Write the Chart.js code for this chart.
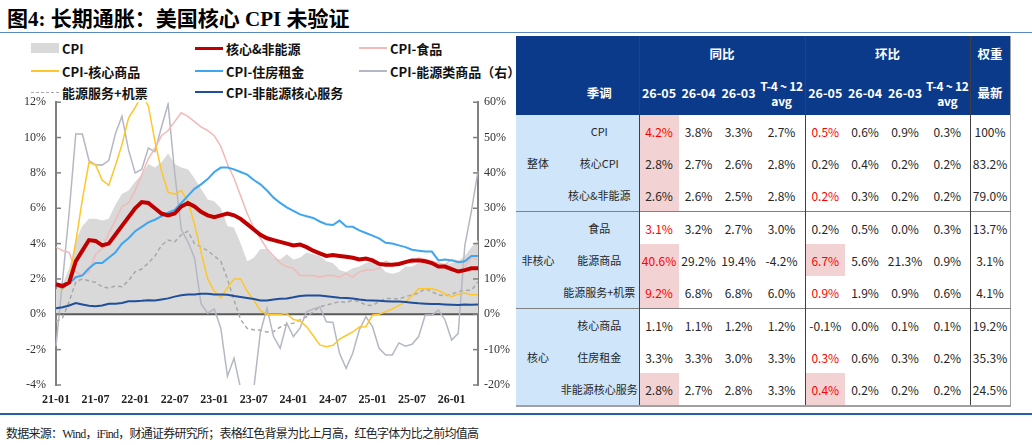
<!DOCTYPE html>
<html>
<head>
<meta charset="utf-8">
<script src="https://cdn.jsdelivr.net/npm/chart.js@4.4.1/dist/chart.umd.min.js"></script>
<style>
body { margin:0; width:1032px; height:445px; background:#fff; position:relative; overflow:hidden; font-family:"Noto Sans CJK SC", sans-serif; }
#title { position:absolute; left:7px; top:2px; font:bold 21px "Liberation Serif","Noto Sans CJK SC"; color:#000; white-space:nowrap; }
#rule1 { position:absolute; left:0; top:32px; width:1032px; border-top:1.5px solid #5b87c5; }
#rule2 { position:absolute; left:0; top:413px; width:1032px; border-top:2px solid #2462a8; }
#source { position:absolute; left:6px; top:424px; font:12px "Liberation Serif","Noto Sans CJK SC"; letter-spacing:-0.75px; color:#222; white-space:nowrap; }
#chartBox { position:absolute; left:0; top:85px; width:516px; height:327px; }
#legend .item { position:absolute; display:flex; align-items:center; height:18px; font:bold 13px "Noto Sans CJK SC"; color:#111; white-space:nowrap; }
#legend .sw { width:28px; margin-right:3px; }
#tbl { position:absolute; left:516px; top:36px; width:494px; border-collapse:collapse; table-layout:fixed;
       font:12px "Noto Sans CJK SC"; color:#262626; border-right:1.5px solid #a0a0a0; border-bottom:2px solid #a0a0a0; }
#tbl th { background:#0b3a8a; color:#fff; font-weight:bold; font-size:12.5px; padding:0; text-align:center; white-space:nowrap; overflow:visible; }
#tbl th.tavg { font-size:12px; letter-spacing:-0.3px; }
#tbl tr.h1 th { height:34px; }
#tbl tr.h2 th { height:45px; line-height:15px; }
#tbl td { height:32px; padding:0; text-align:center; white-space:nowrap; }
#tbl td.lab { background:#cfe5fa; font-size:11px; }
#tbl .sep { border-left:1.5px solid #404040; }
#tbl tr.gtop td { border-top:1.5px solid #808080; }
#tbl td.hi { background:#f2d2d2; }
#tbl td.red { color:#ff0000; }
</style>
</head>
<body>
<div id="title">图4: 长期通胀：美国核心 CPI 未验证</div>
<div id="rule1"></div>
<div id="legend"></div>
<div id="chartBox"><canvas id="myChart"></canvas></div>
<table id="tbl"></table>
<div id="rule2"></div>
<div id="source">数据来源：Wind，iFind，财通证券研究所；表格红色背景为比上月高，红色字体为比之前均值高</div>

<script>
// months 21-01 .. 26-05
var months = [];
for (var yy = 21; yy <= 26; yy++) {
  for (var mm = 1; mm <= 12; mm++) {
    if (yy == 26 && mm > 5) break;
    months.push(yy + "-" + (mm < 10 ? "0" + mm : mm));
  }
}

// left axis (%)
var cpi = [1.4,1.7,2.6,4.2,5.0,5.4,5.4,5.3,5.4,6.2,6.8,7.0,
  7.5,7.9,8.5,8.3,8.6,9.1,8.5,8.3,8.2,7.7,7.1,6.5,
  6.4,6.0,5.0,4.9,4.0,3.0,3.2,3.7,3.7,3.2,3.1,3.4,
  3.1,3.2,3.5,3.4,3.3,3.0,2.9,2.5,2.4,2.6,2.7,2.9,
  3.0,2.8,2.4,2.3,2.4,2.7,2.7,2.9,3.0,3.0,2.8,2.8,
  2.9,3.0,3.3,3.8,4.2];
var coreNonEnergy = [1.7,1.6,1.8,3.0,3.6,4.2,4.15,3.9,4.0,4.5,5.0,5.5,
  6.0,6.35,6.3,6.0,5.7,5.6,5.7,6.1,6.3,6.1,5.8,5.6,
  5.5,5.6,5.7,5.6,5.4,5.1,4.8,4.5,4.3,4.2,4.1,4.0,
  3.9,3.95,3.8,3.6,3.45,3.3,3.35,3.3,3.25,3.2,3.1,3.15,
  3.05,2.85,2.8,2.8,2.85,2.95,3.05,3.05,3.0,2.9,2.7,2.7,
  2.55,2.42,2.5,2.6,2.6];
var food = [3.8,3.6,3.5,2.4,2.2,2.4,3.4,3.7,4.6,5.3,6.1,6.3,
  7.0,7.9,8.8,9.4,10.1,10.4,10.9,11.4,11.2,10.9,10.6,10.4,
  10.1,9.5,8.5,7.7,6.7,5.7,4.9,4.3,3.7,3.3,2.9,2.7,
  2.6,2.2,2.2,2.2,2.1,2.2,2.2,2.1,2.3,2.1,2.4,2.5,
  2.5,2.6,3.0,2.8,2.9,3.0,2.9,3.2,3.1,3.0,2.9,2.8,
  3.1,3.0,2.7,3.2,3.1];
var coreGoods = [1.7,1.4,1.85,4.1,6.5,8.6,8.45,7.6,7.3,8.4,9.6,11.1,
  11.7,12.4,11.8,9.8,8.1,6.9,6.8,7.0,6.4,5.1,3.5,2.0,
  1.3,0.95,1.5,2.0,2.0,1.3,0.8,0.2,0.0,0.0,0.0,0.05,
  -0.3,-0.37,-0.7,-1.2,-1.73,-1.83,-1.75,-1.4,-1.2,-1.0,-0.72,-0.7,
  -0.04,0.0,0.15,0.3,0.5,0.7,1.05,1.45,1.45,1.45,1.35,1.15,
  1.0,1.15,1.2,1.1,1.1];
var shelter = [1.6,1.5,1.75,2.1,2.2,2.6,2.9,2.9,3.2,3.5,4.0,4.3,
  4.7,4.95,5.2,5.35,5.55,5.75,5.9,6.3,6.7,7.1,7.35,7.65,
  8.05,8.3,8.3,8.2,8.05,7.9,7.6,7.35,7.0,6.6,6.3,6.05,
  5.85,5.65,5.55,5.45,5.25,5.1,5.05,5.3,4.97,4.95,4.75,4.6,
  4.45,4.3,4.05,4.0,3.9,3.8,3.65,3.6,3.55,3.55,3.05,3.1,
  3.05,2.95,3.0,3.3,3.3];

// right axis (%)
var energyGoods = [-9,9.7,29,51,51,43.5,42.3,42.2,43.5,51,56,46.5,
  40,41,47,46,53,59.5,40,24,20.5,16,3,0.3,
  1.5,-4,-17.5,-12.4,-21,-27,-21,-5,1.7,-6.3,-9.6,-2.5,
  -6.3,-3.9,0.7,1.5,2.1,-2.1,-2.3,-11,-15.3,-11,-4.4,-0.7,
  -3.5,-9.6,-11.5,-11.5,-8.1,-9,-8.5,-6.3,-0.2,-0.2,1.2,-1.6,
  -7.3,-5.4,19.4,29.2,40.6];
var energyServAir = [-2,-1,3.6,9.2,10,9.5,9,7.8,7.4,8,7.8,9.5,
  12,12.8,14.5,16.5,19.5,21,20.5,22.5,23.5,20,19,18,
  16.5,15,10,4,-1.5,-4,-4.4,-4.5,-5,-4.9,-3.6,-2.8,
  -2.5,-1.6,-0.7,0.7,2.1,2.6,3.1,3.6,3.3,4,3.6,2.6,
  2.5,3.6,4.5,4.5,4.3,5,5.5,6,7.3,6.4,5.5,5.2,
  5.7,6.4,6.8,6.8,9.2];
var coreServices = [1.7,2.0,2.5,3.2,2.8,2.4,2.3,2.5,3.0,3.0,3.2,3.7,
  3.7,3.8,4.0,3.9,4.2,4.5,5.0,5.4,5.6,5.6,5.8,5.8,
  5.6,5.6,5.5,5.2,4.9,4.6,4.3,3.9,3.9,4.2,4.4,4.5,
  4.8,5.2,5.3,5.3,5.3,5.1,4.9,4.7,4.6,4.5,4.2,4.0,
  3.9,3.8,3.7,3.6,3.6,3.5,3.3,3.1,3.0,2.9,2.9,2.8,
  2.7,2.6,2.8,2.7,2.8];

var leftTicks = [-4, 12, 2];
var rightTicks = [-20, 60, 10];

// table data
var rowNames = ["CPI","核心CPI","核心&非能源","食品","能源商品","能源服务+机票","核心商品","住房租金","非能源核心服务"];
var groupNames = ["整体","非核心","核心"];
var periodHead = ["26-05","26-04","26-03","T-4 ~ 12<br>avg"];
var yoy = [[4.2,3.8,3.3,2.7],[2.8,2.7,2.6,2.8],[2.6,2.6,2.5,2.8],
  [3.1,3.2,2.7,3.0],[40.6,29.2,19.4,-4.2],[9.2,6.8,6.8,6.0],
  [1.1,1.1,1.2,1.2],[3.3,3.3,3.0,3.3],[2.8,2.7,2.8,3.3]];
var mom = [[0.5,0.6,0.9,0.3],[0.2,0.4,0.2,0.2],[0.2,0.3,0.2,0.2],
  [0.2,0.5,0.0,0.3],[6.7,5.6,21.3,0.9],[0.9,1.9,0.9,0.6],
  [-0.1,0.0,0.1,0.1],[0.3,0.6,0.3,0.2],[0.4,0.2,0.2,0.2]];
var weights = ["100%","83.2%","79.0%","13.7%","3.1%","4.1%","19.2%","35.3%","24.5%"];
// [yoy, mom] flags for the latest month
var higherThanLast = [[1,0],[1,0],[1,0],[0,0],[1,1],[1,0],[0,0],[0,0],[1,1]];
var higherThanAvg = [[1,1],[0,0],[0,1],[1,0],[1,1],[1,1],[0,0],[0,1],[0,1]];


var datasets = [
  { label: "CPI", data: cpi, yAxisID: "y", borderWidth: 0, borderColor: "rgba(0,0,0,0)",
    backgroundColor: "#d9d9d9", fill: "origin", order: 10 },
  { label: "核心&非能源", data: coreNonEnergy, yAxisID: "y", borderColor: "#c00000", borderWidth: 4, fill: false, order: 0 },
  { label: "CPI-食品", data: food, yAxisID: "y", borderColor: "#f2b9b9", borderWidth: 1.5, fill: false, order: 5 },
  { label: "CPI-核心商品", data: coreGoods, yAxisID: "y", borderColor: "#ffc629", borderWidth: 1.5, fill: false, order: 4 },
  { label: "CPI-住房租金", data: shelter, yAxisID: "y", borderColor: "#3ea6f0", borderWidth: 2, fill: false, order: 2 },
  { label: "CPI-能源类商品（右）", data: energyGoods, yAxisID: "y1", borderColor: "#b4b8c2", borderWidth: 1.5, fill: false, order: 6 },
  { label: "能源服务+机票", data: energyServAir, yAxisID: "y1", borderColor: "#a8a8a8", borderDash: [4, 3], borderWidth: 1.5, fill: false, order: 7 },
  { label: "CPI-非能源核心服务", data: coreServices, yAxisID: "y1", borderColor: "#1f4e9a", borderWidth: 2, fill: false, order: 3 }
];

// zero line + inward tick marks
var axisDeco = {
  id: "axisDeco",
  beforeDatasetsDraw: function (chart) {
    var ctx = chart.ctx, a = chart.chartArea;
    var y0 = chart.scales.y.getPixelForValue(0);
    ctx.save();
    ctx.strokeStyle = "#595959";
    ctx.lineWidth = 2;
    ctx.beginPath(); ctx.moveTo(a.left, y0); ctx.lineTo(a.right, y0); ctx.stroke();
    ctx.restore();
  },
  afterDraw: function (chart) {
    var ctx = chart.ctx;
    ctx.save();
    ctx.strokeStyle = "#7f7f7f";
    ctx.lineWidth = 1.5;
    ["y", "y1"].forEach(function (id) {
      var s = chart.scales[id];
      var x = id == "y" ? s.right : s.left;
      var d = id == "y" ? 5 : -5;
      s.ticks.forEach(function (t) {
        var py = s.getPixelForValue(t.value);
        ctx.beginPath(); ctx.moveTo(x, py); ctx.lineTo(x + d, py); ctx.stroke();
      });
    });
    ctx.restore();
  }
};

var myChart = new Chart(document.getElementById("myChart").getContext("2d"), {
  type: "line",
  data: { labels: months, datasets: datasets },
  options: {
    responsive: true,
    maintainAspectRatio: false,
    animation: false,
    layout: { padding: { top: 7, left: 0, right: 0, bottom: 0 } },
    elements: { point: { radius: 0 }, line: { tension: 0 } },
    plugins: { legend: { display: false }, tooltip: { enabled: false }, filler: { drawTime: "beforeDatasetsDraw" } },
    scales: {
      x: {
        grid: { display: false, tickLength: 0 },
        border: { display: false },
        afterFit: function (s) { s.height = 27; },
        ticks: {
          autoSkip: false, maxRotation: 0, padding: 8, color: "#222",
          font: { family: "Liberation Serif", size: 12, weight: "bold" },
          callback: function (v, i) { return i % 6 == 0 ? months[i] : ""; }
        }
      },
      y: {
        position: "left", min: leftTicks[0], max: leftTicks[1],
        grid: { display: true, drawOnChartArea: false, drawTicks: false },
        border: { display: true, color: "#808080", width: 2 },
        afterFit: function (s) { s.width = 56; },
        ticks: { stepSize: leftTicks[2], padding: 10, color: "#333",
          font: { family: "Liberation Serif", size: 12 },
          callback: function (v) { return v + "%"; } }
      },
      y1: {
        position: "right", min: rightTicks[0], max: rightTicks[1],
        grid: { display: true, drawOnChartArea: false, drawTicks: false },
        border: { display: true, color: "#808080", width: 2 },
        afterFit: function (s) { s.width = 38; },
        ticks: { stepSize: rightTicks[2], padding: 6, color: "#333",
          font: { family: "Liberation Serif", size: 12 },
          callback: function (v) { return v + "%"; } }
      }
    }
  },
  plugins: [axisDeco]
});

// legend, 3 columns
var legendOrder = [0, 1, 2, 3, 4, 5, 6, 7];
var legendCols = [31, 195, 359];
var legendRows = [39, 62, 83];
var legendBox = document.getElementById("legend");
legendOrder.forEach(function (di, k) {
  var ds = myChart.data.datasets[di];
  var item = document.createElement("div");
  item.className = "item";
  item.style.left = legendCols[k % 3] + "px";
  item.style.top = legendRows[Math.floor(k / 3)] + "px";
  var sw = document.createElement("div");
  sw.className = "sw";
  if (ds.fill == "origin") {
    sw.style.height = "10px";
    sw.style.background = ds.backgroundColor;
  } else if (ds.borderDash) {
    sw.style.borderTop = "1.5px dashed " + ds.borderColor;
  } else {
    sw.style.height = Math.min(ds.borderWidth, 3) + "px";
    sw.style.background = ds.borderColor;
  }
  item.appendChild(sw);
  var tx = document.createElement("span");
  tx.textContent = ds.label;
  item.appendChild(tx);
  legendBox.appendChild(item);
});

// table
var colWidths = [44, 79, 39.5, 40, 40, 46.5, 40, 40, 40, 45, 40];
var h = "<colgroup>";
colWidths.forEach(function (w) { h += '<col style="width:' + w + 'px">'; });
h += "</colgroup>";
h += '<tr class="h1"><th colspan="2"></th><th colspan="4" class="sep">同比</th><th colspan="4" class="sep">环比</th><th class="sep">权重</th></tr>';
h += '<tr class="h2"><th></th><th>季调</th>';
periodHead.forEach(function (p, j) { h += "<th" + (j == 0 ? ' class="sep"' : j == 3 ? ' class="tavg"' : "") + ">" + p + "</th>"; });
periodHead.forEach(function (p, j) { h += "<th" + (j == 0 ? ' class="sep"' : j == 3 ? ' class="tavg"' : "") + ">" + p + "</th>"; });
h += '<th class="sep">最新</th></tr>';

function fmt(v) { return v.toFixed(1) + "%"; }
for (var r = 0; r < rowNames.length; r++) {
  h += "<tr" + (r > 0 && r % 3 == 0 ? ' class="gtop"' : "") + ">";
  if (r % 3 == 0) h += '<td class="lab" rowspan="3">' + groupNames[r / 3] + "</td>";
  h += '<td class="lab">' + rowNames[r] + "</td>";
  [yoy[r], mom[r]].forEach(function (vals, g) {
    vals.forEach(function (v, j) {
      var cls = [];
      if (j == 0) {
        cls.push("sep");
        if (higherThanLast[r][g]) cls.push("hi");
        if (higherThanAvg[r][g]) cls.push("red");
      }
      h += '<td class="' + cls.join(" ") + '">' + fmt(v) + "</td>";
    });
  });
  h += '<td class="sep">' + weights[r] + "</td></tr>";
}
document.getElementById("tbl").innerHTML = h;
</script>
</body>
</html>
